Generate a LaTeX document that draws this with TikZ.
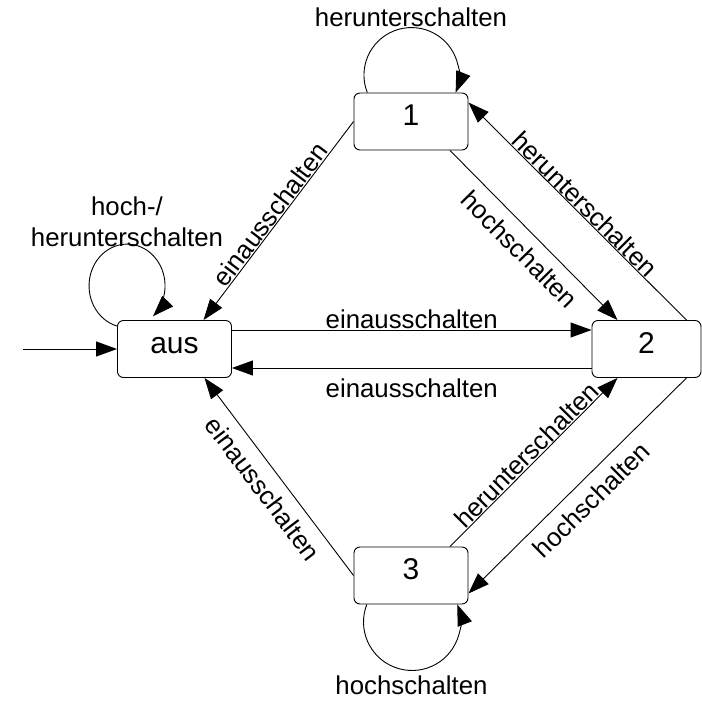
\documentclass[tikz,border=0pt]{standalone}
\usepackage{fontspec}
\setmainfont{Liberation Sans}
\usetikzlibrary{arrows.meta}
\tikzset{
  state/.style={draw, line width=0.9pt, rounded corners=6pt, minimum width=114pt, minimum height=57pt,
    inner sep=0pt, text height=0.85em, text depth=0pt, font=\fontsize{30}{36}\selectfont},
  lab/.style={font=\fontsize{25.8}{31}\selectfont, inner sep=0.5pt},
  labb/.style={font=\fontsize{25.8}{31}\selectfont, inner sep=10pt},
  arr/.style={line width=0.9pt, -{Triangle[length=21pt,width=15pt]}},
}
\begin{document}
\begin{tikzpicture}[x=1pt,y=1pt]
\useasboundingbox (0,0) rectangle (702,-701);
\node[state] (aus) at (174.5,-349) {aus};
\node[state] (n1) at (411,-121.5) {1};
\node[state, minimum width=109pt] (n2) at (646.5,-349) {2};
\node[state] (n3) at (411,-575.5) {3};
\coordinate (init) at (23,-349);

\draw[arr] (init) -- (aus.west);
\draw[arr] ([yshift=19pt]aus.east) -- node[lab, above] (la) {einausschalten} ([yshift=19pt]n2.west);
\draw[arr] ([yshift=-19pt]n2.west) -- node[labb, below] (lb) {einausschalten} ([yshift=-19pt]aus.east);
\draw[arr] (n1.west) -- node[lab, above, sloped] (lc) {einausschalten} ([xshift=29pt]aus.north);
\draw[arr] ([xshift=39pt]n1.south) -- node[labb, below, sloped] (ld) {hochschalten} ([xshift=-29pt]n2.north);
\draw[arr] ([xshift=40pt]n2.north) -- node[lab, above, sloped] (le) {herunterschalten} ([yshift=19pt]n1.east);
\draw[arr] (n3.west) -- node[labb, below, sloped] (lf) {einausschalten} ([xshift=30pt]aus.south);
\draw[arr] ([xshift=39pt]n3.north) -- node[lab, above, sloped] (lg) {herunterschalten} ([xshift=-29pt]n2.south);
\draw[arr] ([xshift=40pt]n2.south) -- node[labb, below, sloped] (lh) {hochschalten} ([yshift=-18pt]n3.east);

% self loops
\draw[arr] ([xshift=-43.7pt]n1.north) arc[start angle=201.6, end angle=-21.6, radius=47.5pt];
\node[lab, anchor=base] (l1) at (411,-27) {herunterschalten};
\draw[arr] ([yshift=-6pt]aus.north west) arc[start angle=254.75, end angle=-46.8, x radius=38pt, y radius=41.7pt];
\node[lab, anchor=base] (l2a) at (127,-215) {hoch-/};
\node[lab, anchor=base] (l2b) at (127,-246) {herunterschalten};
\draw[arr] ([xshift=-44.2pt]n3.south) arc[start angle=158.8, end angle=381.2, radius=48.5pt];
\node[lab, anchor=base] (l3) at (411.5,-694) {hochschalten};
\end{tikzpicture}
\end{document}
